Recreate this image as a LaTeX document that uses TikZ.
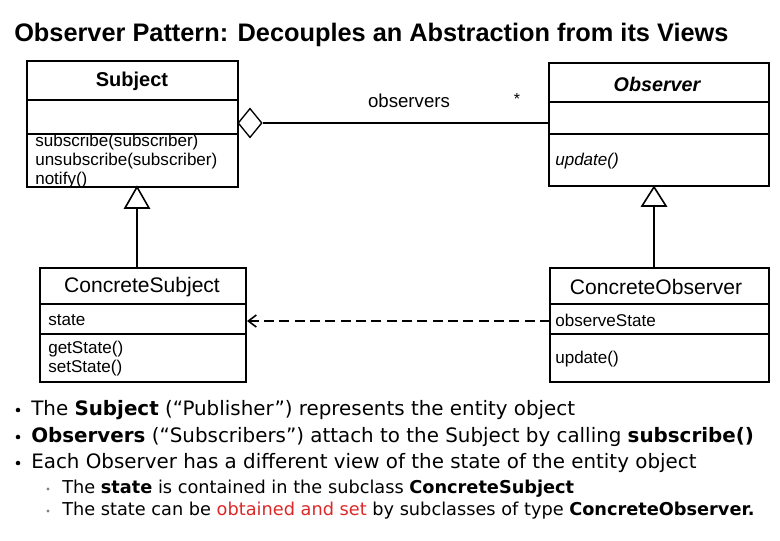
\documentclass[tikz,border=0pt]{standalone}
\usepackage{fontspec}
\setmainfont{Liberation Sans}
\newfontfamily\verd{DejaVu Sans}
\usetikzlibrary{shapes.geometric,arrows.meta}
\definecolor{redtxt}{RGB}{220,40,40}
\begin{document}
\begin{tikzpicture}[x=0.75pt,y=-0.75pt,
  box/.style={draw,line width=0.8pt,rectangle,inner sep=0pt},
  meth/.style={anchor=west,font=\fontsize{12.8}{14}\selectfont,inner sep=0pt},
  ttl/.style={font=\fontsize{15.8}{18}\selectfont,inner sep=0pt},
  bul/.style={anchor=west,inner sep=0pt,font=\verd\fontsize{14.9}{17}\selectfont},
  sbul/.style={anchor=west,inner sep=0pt,font=\verd\fontsize{13.3}{15}\selectfont},
  ln/.style={line width=1.2pt}]
\useasboundingbox (0,0) rectangle (780,540);
\node[anchor=west,inner sep=0pt,font=\bfseries\fontsize{19}{22}\selectfont] (title) at (14,35) {Observer Pattern: Decouples an Abstraction from its Views};
% boxes
\node[box,minimum width=158.25pt,minimum height=94.5pt] (S) at (132.5,124) {};
\draw[line width=0.8pt] (27,100) -- (238,100) (27,134) -- (238,134);
\node[ttl,font=\bfseries\fontsize{15}{17}\selectfont] (St) at (132,81) {Subject};
\node[meth] (s1) at (35,142) {subscribe(subscriber)};
\node[meth] (s2) at (35,161) {unsubscribe(subscriber)};
\node[meth] (s3) at (35,180) {notify()};
\node[box,minimum width=165pt,minimum height=92.25pt] (O) at (659,124.5) {};
\draw[line width=0.8pt] (549,102) -- (769,102) (549,134) -- (769,134);
\node[ttl,font=\bfseries\itshape\fontsize{14.8}{17}\selectfont] (Ot) at (657,84) {Observer};
\node[meth,font=\itshape\fontsize{12.8}{14}\selectfont] (o1) at (555,161) {update()};
\node[box,minimum width=154.5pt,minimum height=85.5pt] (CS) at (143,325) {};
\draw[line width=0.8pt] (40,304) -- (246,304) (40,334) -- (246,334);
\node[ttl] (CSt) at (142,287) {ConcreteSubject};
\node[meth] (c1) at (48,320) {state};
\node[meth] (c2) at (48,349) {getState()};
\node[meth] (c3) at (48,368) {setState()};
\node[box,minimum width=164.25pt,minimum height=85.5pt] (CO) at (659.5,325) {};
\draw[line width=0.8pt] (550,304) -- (769,304) (550,334) -- (769,334);
\node[ttl] (COt) at (656,287) {ConcreteObserver};
\node[meth] (d1) at (555,320) {observeState};
\node[meth] (d2) at (555,359) {update()};
% association
\node[draw,diamond,line width=1pt,minimum width=18pt,minimum height=22pt,inner sep=0pt,fill=white] (D) at (250,123) {};
\draw[ln] (D.east) -- (D.east -| O.west);
\node[meth,font=\fontsize{14}{16}\selectfont,anchor=center] (lab) at (409,101) {observers};
\node[meth,font=\fontsize{12}{12}\selectfont,anchor=center] (star) at (517,99) {*};
% generalizations
\coordinate (g1) at (137,208); \coordinate (g2) at (654,206);
\draw[ln] (137,268) -- (g1);
\draw[ln] (g1) -- (125,208) -- (137,187) -- (149,208) -- cycle;
\draw[ln] (654,268) -- (g2);
\draw[ln] (g2) -- (642,206) -- (654,187) -- (666,206) -- cycle;
% dependency
\draw[ln,dash pattern=on 7.5pt off 4pt,-{Straight Barb[length=6pt,width=9pt]}] (550,321) -- (247,321);
% bullets
\node[bul] (b1) at (31,410) {The \textbf{Subject} (“Publisher”) represents the entity object};
\node[bul] (b2) at (31,437) {\textbf{Observers} (“Subscribers”) attach to the Subject by calling \textbf{subscribe()}};
\node[bul] (b3) at (31,463) {Each Observer has a different view of the state of the entity object};
\node[sbul] (b4) at (62,489) {The \textbf{state} is contained in the subclass \textbf{ConcreteSubject}};
\node[sbul] (b5) at (62,511) {The state can be \textcolor{redtxt}{obtained and set} by subclasses of type \textbf{ConcreteObserver.}};
\foreach \y in {410,437,463} \fill (18,\y) circle (1.7pt);
\foreach \y in {489,511} \fill[gray] (48,\y) circle (1.3pt);
\end{tikzpicture}
\end{document}
